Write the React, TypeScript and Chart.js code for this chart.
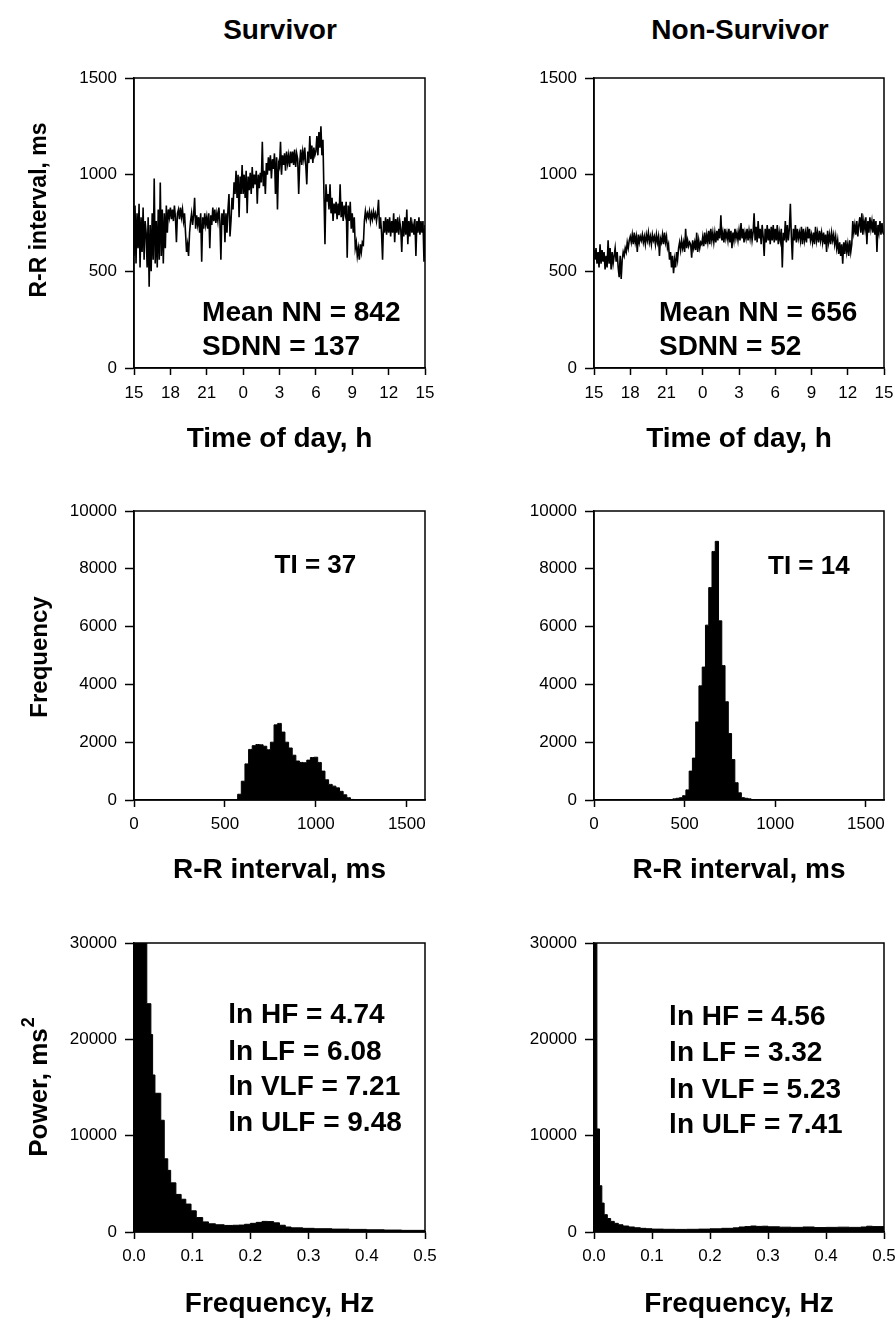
import React, { useEffect, useRef } from "react";
import { Chart, registerables } from "chart.js";

Chart.register(...registerables);

const FONT = "'Liberation Sans', Arial, Helvetica, sans-serif";

// ---------------- Data ----------------
const groupTitles = ["Survivor", "Non-Survivor"];
const hourTickValues = [0, 3, 6, 9, 12, 15, 18, 21, 24];
const hourTickLabels = ["15", "18", "21", "0", "3", "6", "9", "12", "15"];
const rrTickValues = [0, 500, 1000, 1500];
const countTickValues = [0, 2000, 4000, 6000, 8000, 10000];
const powerTickValues = [0, 10000, 20000, 30000];
const freqTickValues = [0, 0.1, 0.2, 0.3, 0.4, 0.5];
const samplesPerHour = 12;

// R-R interval (ms), 24 h recording starting 15:00, one value per 5 min
const survivorRR = [
  580, 840, 540, 800, 620, 850, 520, 780, 600, 830, 560, 760,
  700, 520, 780, 420, 740, 500, 800, 560, 980, 540, 760, 520,
  820, 560, 960, 580, 820, 540, 800, 620, 840, 700, 820, 780,
  830, 770, 820, 760, 840, 780, 650, 800, 820, 770, 830, 780,
  820, 760, 800, 700, 600, 640, 580, 700, 760, 800, 740, 790,
  880, 720, 790, 740, 780, 700, 800, 550, 780, 720, 800, 740,
  780, 720, 800, 620, 790, 740, 830, 760, 820, 750, 800, 760,
  830, 760, 560, 800, 740, 820, 650, 800, 700, 820, 900, 680,
  760, 880, 820, 960, 900, 1020, 880, 1000, 780, 990, 900, 1050,
  900, 1000, 880, 1020, 800, 990, 920, 1010, 900, 1040, 930, 1000,
  950, 1020, 850, 1000, 930, 1010, 960, 1170, 940, 1020, 900, 1060,
  1000, 1090, 1020, 1100, 980, 1080, 1030, 1110, 900, 1090, 820, 1060,
  1040, 1170, 1000, 1100, 1050, 1110, 1020, 1120, 1060, 1100, 1040, 1120,
  1060, 1120, 1050, 1130, 1040, 1110, 1080, 900, 1060, 1130, 1050, 1120,
  1080, 1140, 1050, 950, 1120, 1060, 1200, 1080, 1150, 1060, 1140, 1100,
  1120, 1200, 1100, 1220, 1140, 1250, 1100, 1180, 900, 640, 950, 860,
  900, 820, 950, 800, 880, 760, 850, 800, 860, 770, 850, 790,
  950, 780, 860, 760, 840, 800, 860, 570, 840, 760, 860, 720,
  800, 700, 780, 620, 650, 580, 620, 560, 640, 600, 650, 640,
  760, 810, 770, 800, 780, 810, 760, 800, 770, 810, 780, 800,
  760, 800, 870, 720, 780, 700, 560, 760, 700, 780, 690, 770,
  700, 780, 680, 760, 700, 800, 650, 770, 700, 780, 690, 760,
  720, 600, 760, 680, 780, 690, 820, 640, 760, 680, 780, 700,
  740, 690, 770, 580, 760, 700, 780, 690, 760, 700, 760, 550,
  740,
];

const nonSurvivorRR = [
  610, 560, 620, 540, 600, 520, 640, 540, 610, 550, 600, 510,
  580, 520, 660, 540, 620, 510, 600, 540, 580, 620, 550, 600,
  520, 470, 580, 460, 560, 600, 580, 620, 600, 650, 620, 660,
  680, 650, 690, 640, 700, 650, 680, 600, 690, 650, 680, 660,
  690, 650, 680, 640, 690, 660, 700, 650, 680, 640, 690, 660,
  680, 640, 690, 650, 680, 580, 670, 650, 690, 640, 700, 650,
  680, 620, 640, 560, 600, 520, 580, 490, 560, 520, 600, 560,
  620, 650, 610, 660, 620, 650, 600, 720, 620, 660, 630, 650,
  640, 570, 660, 620, 650, 610, 700, 600, 660, 620, 650, 640,
  680, 630, 700, 640, 690, 650, 710, 640, 720, 660, 700, 650,
  700, 650, 710, 660, 720, 670, 790, 660, 700, 650, 720, 670,
  700, 660, 720, 650, 710, 620, 700, 660, 720, 670, 700, 660,
  710, 660, 750, 670, 720, 650, 700, 670, 720, 660, 710, 670,
  720, 660, 700, 800, 660, 730, 650, 760, 670, 720, 640, 740,
  680, 580, 720, 650, 740, 660, 720, 640, 730, 660, 740, 650,
  720, 660, 740, 640, 700, 660, 720, 520, 700, 660, 760, 650,
  740, 660, 720, 850, 680, 560, 720, 660, 740, 650, 720, 670,
  700, 660, 730, 640, 720, 660, 700, 650, 730, 670, 720, 660,
  690, 650, 700, 640, 730, 660, 700, 650, 710, 660, 700, 650,
  700, 640, 690, 600, 710, 650, 690, 640, 700, 660, 690, 640,
  680, 620, 660, 590, 650, 580, 640, 540, 650, 590, 660, 600,
  640, 580, 660, 600, 640, 760, 700, 740, 690, 760, 680, 740,
  780, 700, 800, 690, 760, 720, 780, 640, 760, 700, 780, 720,
  760, 700, 770, 690, 760, 600, 740, 700, 760, 690, 750, 700,
  690,
];

// R-R interval histograms (bin centre in ms, count)
const survivorHistBins = [
  540, 560, 580, 600, 620, 640, 660, 680, 700, 720, 740, 760, 780, 800, 820, 840,
  860, 880, 900, 920, 940, 960, 980, 1000, 1020, 1040, 1060, 1080, 1100, 1120,
  1140, 1160, 1180, 1200, 1220,
];
const survivorHistCounts = [
  0, 0, 200, 650, 1250, 1750, 1880, 1920, 1910, 1860, 1740, 2000, 2600, 2650, 2350, 2000,
  1800, 1550, 1350, 1300, 1290, 1380, 1470, 1480, 1300, 1000, 700, 540, 480, 420,
  300, 180, 80, 20, 0,
];
const nonSurvivorHistBins = [
  426, 444, 462, 480, 498, 516, 534, 552, 570, 588, 606, 624, 642, 660, 678, 696,
  714, 732, 750, 768, 786, 804, 822, 840, 858, 876,
];
const nonSurvivorHistCounts = [
  0, 40, 60, 80, 150, 350, 1000, 1450, 2700, 3950, 4600, 6050, 7350, 8600, 8950, 6200,
  4650, 3400, 2300, 1400, 600, 250, 80, 60, 40, 0,
];

// Power spectra (band left edge in Hz, power in ms^2)
const survivorFreq = [
  0, 0.022, 0.029, 0.032, 0.036, 0.046, 0.052, 0.058, 0.063, 0.072, 0.081, 0.089,
  0.098, 0.107, 0.118, 0.128, 0.14, 0.155, 0.17, 0.18, 0.19, 0.2, 0.21, 0.22, 0.23,
  0.24, 0.25, 0.26, 0.27, 0.29, 0.31, 0.34, 0.37, 0.4, 0.43, 0.46, 0.5,
];
const survivorPower = [
  32000, 23700, 20500, 16300, 14400, 11600, 7600, 6400, 5100, 3900, 3400, 2900,
  2200, 1500, 1050, 850, 750, 680, 700, 720, 800, 900, 1000, 1100, 1080,
  950, 700, 520, 430, 380, 340, 300, 270, 230, 200, 170, 150,
];
const nonSurvivorFreq = [
  0, 0.005, 0.0095, 0.0135, 0.0175, 0.023, 0.0287, 0.035, 0.042, 0.05, 0.06, 0.07,
  0.08, 0.09, 0.1, 0.12, 0.14, 0.16, 0.18, 0.2, 0.22, 0.24, 0.25, 0.26, 0.27, 0.28,
  0.29, 0.3, 0.32, 0.34, 0.36, 0.38, 0.4, 0.42, 0.44, 0.46, 0.47, 0.48, 0.5,
];
const nonSurvivorPower = [
  32000, 10700, 4800, 3000, 1800, 1400, 1100, 900, 750, 620, 520, 440,
  380, 340, 300, 280, 270, 280, 300, 330, 380, 430, 520, 560, 620, 580,
  600, 540, 500, 480, 520, 460, 480, 500, 480, 520, 600, 560, 540,
];

const survivorTimeNotes = ["Mean NN = 842", "SDNN = 137"];
const nonSurvivorTimeNotes = ["Mean NN = 656", "SDNN = 52"];
const survivorHistNotes = ["TI = 37"];
const nonSurvivorHistNotes = ["TI = 14"];
const survivorSpecNotes = ["ln HF = 4.74", "ln LF = 6.08", "ln VLF = 7.21", "ln ULF = 9.48"];
const nonSurvivorSpecNotes = ["ln HF = 4.56", "ln LF = 3.32", "ln VLF = 5.23", "ln ULF = 7.41"];

const hours = survivorRR.map((_, i) => i / samplesPerHour);
const hoursNS = nonSurvivorRR.map((_, i) => i / samplesPerHour);

// ---------------- Layout ----------------
const COLS = [
  { left: 0, width: 447, yAxisW: 134, padRight: 22 },
  { left: 447, width: 448, yAxisW: 147, padRight: 11 },
];
const ROWS = [
  { top: 0, height: 460, padTop: 78, xAxisH: 92, tickPad: 8, titlePad: 4 },
  { top: 460, height: 430, padTop: 51, xAxisH: 90, tickPad: 7, titlePad: 3 },
  { top: 890, height: 432, padTop: 53, xAxisH: 90, tickPad: 7, titlePad: 1 },
];

const frameNotes = {
  id: "frameNotes",
  afterDatasetsDraw(chart: any, _args: any, opts: any) {
    const { ctx, chartArea: a } = chart;
    ctx.save();
    ctx.strokeStyle = "#000";
    ctx.lineWidth = 1.5;
    ctx.strokeRect(a.left, a.top, a.right - a.left, a.bottom - a.top);
    ctx.fillStyle = "#000";
    ctx.font = `bold ${opts.size}px ${FONT}`;
    ctx.textBaseline = "middle";
    ctx.textAlign = "left";
    (opts.lines || []).forEach((t: string, i: number) => {
      ctx.fillText(t, a.left + opts.x * (a.right - a.left), a.top + opts.y[i] * (a.bottom - a.top));
    });
    if (opts.yTitle) {
      ctx.translate(opts.yTitleX, opts.yTitleY);
      ctx.rotate(-Math.PI / 2);
      ctx.font = `bold ${opts.yTitleSize}px ${FONT}`;
      const w = ctx.measureText(opts.yTitle).width;
      let ws = 0;
      const supSize = Math.round(opts.yTitleSize * 0.68);
      if (opts.yTitleSup) {
        ctx.font = `bold ${supSize}px ${FONT}`;
        ws = ctx.measureText(opts.yTitleSup).width + 1;
      }
      const start = -(w + ws) / 2;
      ctx.font = `bold ${opts.yTitleSize}px ${FONT}`;
      ctx.fillText(opts.yTitle, start, 0);
      if (opts.yTitleSup) {
        ctx.font = `bold ${supSize}px ${FONT}`;
        ctx.fillText(opts.yTitleSup, start + w + 1, -opts.yTitleSize * 0.42);
      }
    }
    ctx.restore();
  },
};

type Spec = {
  col: number;
  row: number;
  xs: number[];
  ys: number[];
  area: boolean;
  stepped?: any;
  xMax: number;
  xTicks: number[];
  xLabel: (v: number, i: number) => string;
  xTitle: string;
  yMax: number;
  yTicks: number[];
  yTitle?: string;
  yTitleSup?: string;
  yTitleSize?: number;
  yTitleCenter?: number;
  notes: string[];
  noteX: number;
  noteY: number[];
  noteSize: number;
};

function buildConfig(s: Spec): any {
  const C = COLS[s.col];
  const R = ROWS[s.row];
  const points = s.xs.map((x, i) => ({ x, y: s.ys[i] }));
  const dataset = s.area
    ? {
        data: points,
        borderColor: "#000",
        backgroundColor: "#000",
        borderWidth: 1,
        pointRadius: 0,
        fill: "origin",
        stepped: s.stepped,
        tension: 0,
      }
    : {
        data: points,
        borderColor: "#000",
        borderWidth: 1.6,
        pointRadius: 0,
        fill: false,
        tension: 0,
      };
  const tickFont = { family: FONT, size: 17 };
  return {
    type: "line",
    data: { datasets: [dataset] },
    options: {
      responsive: false,
      animation: false,
      devicePixelRatio: 1,
      layout: { padding: { top: R.padTop, right: C.padRight, left: 0, bottom: 0 } },
      plugins: {
        legend: { display: false },
        tooltip: { enabled: false },
        title: { display: false },
        frameNotes: {
          lines: s.notes,
          x: s.noteX,
          y: s.noteY,
          size: s.noteSize,
          yTitle: s.yTitle,
          yTitleSup: s.yTitleSup,
          yTitleSize: s.yTitleSize,
          yTitleX: 40,
          yTitleY: (s.yTitleCenter || 0) - R.top,
        },
      },
      scales: {
        x: {
          type: "linear",
          position: "bottom",
          min: 0,
          max: s.xMax,
          afterFit: (sc: any) => {
            sc.height = R.xAxisH;
            sc.paddingLeft = 0;
            sc.paddingRight = 0;
          },
          afterBuildTicks: (sc: any) => {
            sc.ticks = s.xTicks.map((v) => ({ value: v }));
          },
          ticks: {
            autoSkip: false,
            maxRotation: 0,
            minRotation: 0,
            padding: R.tickPad,
            color: "#000",
            font: tickFont,
            callback: (v: any, i: number) => s.xLabel(Number(v), i),
          },
          grid: {
            drawOnChartArea: false,
            drawTicks: true,
            tickLength: 7,
            tickColor: "#000",
            tickWidth: 1.5,
          },
          border: { display: true, color: "#000", width: 1.5 },
          title: {
            display: true,
            text: s.xTitle,
            color: "#000",
            font: { family: FONT, size: 28, weight: "bold" },
            padding: { top: 0, bottom: R.titlePad },
          },
        },
        y: {
          type: "linear",
          position: "left",
          min: 0,
          max: s.yMax,
          afterFit: (sc: any) => {
            sc.width = C.yAxisW;
            sc.paddingTop = 0;
            sc.paddingBottom = 0;
          },
          afterBuildTicks: (sc: any) => {
            sc.ticks = s.yTicks.map((v) => ({ value: v }));
          },
          ticks: {
            autoSkip: false,
            padding: 8,
            color: "#000",
            font: tickFont,
            callback: (v: any) => String(v),
          },
          grid: {
            drawOnChartArea: false,
            drawTicks: true,
            tickLength: 9,
            tickColor: "#000",
            tickWidth: 1.5,
          },
          border: { display: true, color: "#000", width: 1.5 },
          title: { display: false },
        },
      },
    },
    plugins: [frameNotes],
  };
}

function Panel({ spec }: { spec: Spec }) {
  const ref = useRef<HTMLCanvasElement>(null);
  const C = COLS[spec.col];
  const R = ROWS[spec.row];
  useEffect(() => {
    const chart = new Chart(ref.current as HTMLCanvasElement, buildConfig(spec));
    return () => chart.destroy();
  }, []);
  return (
    <canvas
      ref={ref}
      width={C.width}
      height={R.height}
      style={{ position: "absolute", left: C.left, top: R.top, width: C.width, height: R.height }}
    />
  );
}

const hourLabel = (_v: number, i: number) => hourTickLabels[i] ?? "";
const intLabel = (v: number) => String(Math.round(v));
const hzLabel = (v: number) => v.toFixed(1);

const specs: Spec[] = [
  {
    col: 0, row: 0, xs: hours, ys: survivorRR, area: false,
    xMax: 24, xTicks: hourTickValues, xLabel: hourLabel, xTitle: "Time of day, h",
    yMax: 1500, yTicks: rrTickValues,
    yTitle: "R-R interval, ms", yTitleSize: 23, yTitleCenter: 210,
    notes: survivorTimeNotes, noteX: 0.234, noteY: [0.81, 0.928], noteSize: 28,
  },
  {
    col: 1, row: 0, xs: hoursNS, ys: nonSurvivorRR, area: false,
    xMax: 24, xTicks: hourTickValues, xLabel: hourLabel, xTitle: "Time of day, h",
    yMax: 1500, yTicks: rrTickValues,
    notes: nonSurvivorTimeNotes, noteX: 0.224, noteY: [0.81, 0.93], noteSize: 28,
  },
  {
    col: 0, row: 1, xs: survivorHistBins, ys: survivorHistCounts, area: true, stepped: "middle",
    xMax: 1600, xTicks: rrTickValues, xLabel: intLabel, xTitle: "R-R interval, ms",
    yMax: 10000, yTicks: countTickValues,
    yTitle: "Frequency", yTitleSize: 24, yTitleCenter: 657,
    notes: survivorHistNotes, noteX: 0.483, noteY: [0.19], noteSize: 26,
  },
  {
    col: 1, row: 1, xs: nonSurvivorHistBins, ys: nonSurvivorHistCounts, area: true, stepped: "middle",
    xMax: 1600, xTicks: rrTickValues, xLabel: intLabel, xTitle: "R-R interval, ms",
    yMax: 10000, yTicks: countTickValues,
    notes: nonSurvivorHistNotes, noteX: 0.6, noteY: [0.194], noteSize: 26,
  },
  {
    col: 0, row: 2, xs: survivorFreq, ys: survivorPower, area: true, stepped: "before",
    xMax: 0.5, xTicks: freqTickValues, xLabel: hzLabel, xTitle: "Frequency, Hz",
    yMax: 30000, yTicks: powerTickValues,
    yTitle: "Power, ms", yTitleSup: "2", yTitleSize: 26, yTitleCenter: 1087,
    notes: survivorSpecNotes, noteX: 0.324, noteY: [0.249, 0.377, 0.498, 0.623], noteSize: 28,
  },
  {
    col: 1, row: 2, xs: nonSurvivorFreq, ys: nonSurvivorPower, area: true, stepped: "before",
    xMax: 0.5, xTicks: freqTickValues, xLabel: hzLabel, xTitle: "Frequency, Hz",
    yMax: 30000, yTicks: powerTickValues,
    notes: nonSurvivorSpecNotes, noteX: 0.259, noteY: [0.256, 0.381, 0.509, 0.63], noteSize: 28,
  },
];

export default function App() {
  return (
    <div
      style={{
        position: "absolute",
        left: 0,
        top: 0,
        width: 895,
        height: 1322,
        background: "#fff",
        overflow: "hidden",
        fontFamily: FONT,
      }}
    >
      {groupTitles.map((t, i) => (
        <div
          key={t}
          style={{
            position: "absolute",
            top: 13,
            left: i === 0 ? 130 : 590,
            width: 300,
            textAlign: "center",
            fontSize: 28,
            lineHeight: "34px",
            fontWeight: "bold",
            color: "#000",
          }}
        >
          {t}
        </div>
      ))}
      {specs.map((s, i) => (
        <Panel key={i} spec={s} />
      ))}
    </div>
  );
}
